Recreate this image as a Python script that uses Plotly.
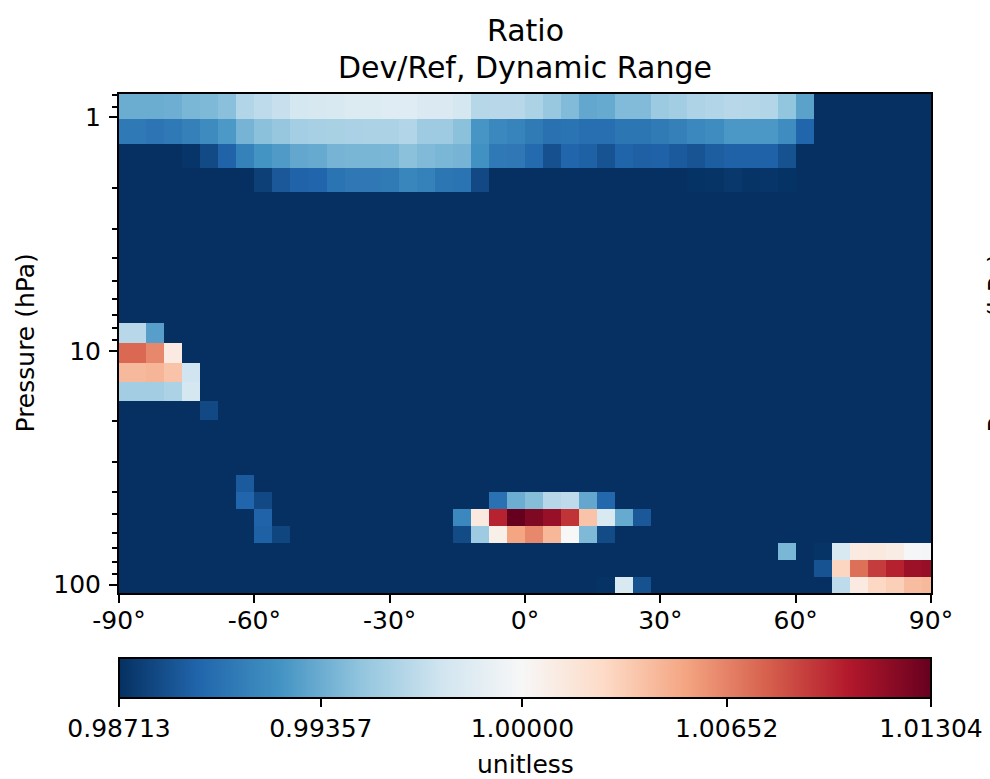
import plotly.graph_objects as go

# Dev/Ref ratio, zonal mean, stratosphere (GEOS-Chem 72L edges 0.795-108.7 hPa)

B = 0.98713  # background cells sit at the colour-scale minimum

lat = [-90, -86, -82, -78, -74, -70, -66, -62, -58, -54,
       -50, -46, -42, -38, -34, -30, -26, -22, -18, -14,
       -10, -6, -2, 2, 6, 10, 14, 18, 22, 26,
       30, 34, 38, 42, 46, 50, 54, 58, 62, 66,
       70, 74, 78, 82, 86, 90]

p_edges = [0.7951, 1.0194, 1.3005, 1.6508, 2.0850, 2.6202, 3.2764, 4.0766,
           5.0468, 6.2168, 7.6198, 9.2929, 11.2769, 13.6434, 16.4571,
           19.7916, 23.7304, 28.3678, 33.8100, 40.1754, 47.6439, 56.3879,
           66.6034, 78.5123, 92.3657, 108.663]

ratio = [
    # 0.80 - 1.02 hPa
    [0.99357, 0.99357, 0.99357, 0.99369, 0.99408, 0.99421, 0.99459, 0.99614, 0.99665, 0.99704,
     0.99768, 0.99781, 0.99794, 0.99820, 0.99820, 0.99846, 0.99846, 0.99807, 0.99807, 0.99768,
     0.99627, 0.99640, 0.99640, 0.99588, 0.99511, 0.99434, 0.99331, 0.99344, 0.99434, 0.99434,
     0.99524, 0.99550, 0.99601, 0.99614, 0.99640, 0.99627, 0.99614, 0.99485, 0.99305, B,
     B, B, B, B, B, B],
    # 1.02 - 1.30
    [0.99078, 0.99078, 0.99050, 0.99078, 0.99120, 0.99187, 0.99256, 0.99395, 0.99465, 0.99501,
     0.99560, 0.99570, 0.99578, 0.99583, 0.99591, 0.99591, 0.99614, 0.99537, 0.99537, 0.99467,
     0.99236, 0.99163, 0.99138, 0.99086, 0.99035, 0.99048, 0.99022, 0.99022, 0.99060, 0.99060,
     0.99086, 0.99120, 0.99163, 0.99189, 0.99254, 0.99254, 0.99254, 0.99189, 0.98970, B,
     B, B, B, B, B, B],
    # 1.30 - 1.65
    [B, B, B, B, 0.98739, 0.98837, 0.98958, 0.99125, 0.99228, 0.99266,
     0.99331, 0.99344, 0.99395, 0.99403, 0.99403, 0.99408, 0.99467, 0.99426, 0.99408, 0.99395,
     0.99215, 0.99078, 0.99073, 0.98996, 0.98867, 0.98970, 0.98945, 0.98880, 0.98965, 0.98940,
     0.98952, 0.98914, 0.98885, 0.98932, 0.98952, 0.98952, 0.98952, 0.98873, B, B,
     B, B, B, B, B, B],
    # 1.65 - 2.09
    [B, B, B, B, B, B, B, B, 0.98790, 0.98906,
     0.98958, 0.98970, 0.99048, 0.99073, 0.99073, 0.99086, 0.99151, 0.99125, 0.99060, 0.99048,
     0.98829, B, B, B, B, B, B, B, B, B,
     B, B, 0.98726, 0.98734, 0.98752, 0.98734, 0.98739, 0.98726, B, B,
     B, B, B, B, B, B],
    # 2.09 - 2.62
    [B, B, B, B, B, B, B, B, B, B,
     B, B, B, B, B, B, B, B, B, B,
     B, B, B, B, B, B, B, B, B, B,
     B, B, B, B, B, B, B, B, B, B,
     B, B, B, B, B, B],
    # 2.62 - 3.28
    [B, B, B, B, B, B, B, B, B, B,
     B, B, B, B, B, B, B, B, B, B,
     B, B, B, B, B, B, B, B, B, B,
     B, B, B, B, B, B, B, B, B, B,
     B, B, B, B, B, B],
    # 3.28 - 4.08
    [B, B, B, B, B, B, B, B, B, B,
     B, B, B, B, B, B, B, B, B, B,
     B, B, B, B, B, B, B, B, B, B,
     B, B, B, B, B, B, B, B, B, B,
     B, B, B, B, B, B],
    # 4.08 - 5.05
    [B, B, B, B, B, B, B, B, B, B,
     B, B, B, B, B, B, B, B, B, B,
     B, B, B, B, B, B, B, B, B, B,
     B, B, B, B, B, B, B, B, B, B,
     B, B, B, B, B, B],
    # 5.05 - 6.22
    [B, B, B, B, B, B, B, B, B, B,
     B, B, B, B, B, B, B, B, B, B,
     B, B, B, B, B, B, B, B, B, B,
     B, B, B, B, B, B, B, B, B, B,
     B, B, B, B, B, B],
    # 6.22 - 7.62
    [B, B, B, B, B, B, B, B, B, B,
     B, B, B, B, B, B, B, B, B, B,
     B, B, B, B, B, B, B, B, B, B,
     B, B, B, B, B, B, B, B, B, B,
     B, B, B, B, B, B],
    # 7.62 - 9.29
    [0.99640, 0.99640, 0.99292, B, B, B, B, B, B, B,
     B, B, B, B, B, B, B, B, B, B,
     B, B, B, B, B, B, B, B, B, B,
     B, B, B, B, B, B, B, B, B, B,
     B, B, B, B, B, B],
    # 9.29 - 11.3
    [1.00751, 1.00751, 1.00631, 1.00120, B, B, B, B, B, B,
     B, B, B, B, B, B, B, B, B, B,
     B, B, B, B, B, B, B, B, B, B,
     B, B, B, B, B, B, B, B, B, B,
     B, B, B, B, B, B],
    # 11.3 - 13.6
    [1.00425, 1.00425, 1.00443, 1.00376, 0.99743, B, B, B, B, B,
     B, B, B, B, B, B, B, B, B, B,
     B, B, B, B, B, B, B, B, B, B,
     B, B, B, B, B, B, B, B, B, B,
     B, B, B, B, B, B],
    # 13.6 - 16.5
    [0.99550, 0.99550, 0.99550, 0.99588, 0.99768, B, B, B, B, B,
     B, B, B, B, B, B, B, B, B, B,
     B, B, B, B, B, B, B, B, B, B,
     B, B, B, B, B, B, B, B, B, B,
     B, B, B, B, B, B],
    # 16.5 - 19.8
    [B, B, B, B, B, 0.98829, B, B, B, B,
     B, B, B, B, B, B, B, B, B, B,
     B, B, B, B, B, B, B, B, B, B,
     B, B, B, B, B, B, B, B, B, B,
     B, B, B, B, B, B],
    # 19.8 - 23.7
    [B, B, B, B, B, B, B, B, B, B,
     B, B, B, B, B, B, B, B, B, B,
     B, B, B, B, B, B, B, B, B, B,
     B, B, B, B, B, B, B, B, B, B,
     B, B, B, B, B, B],
    # 23.7 - 28.4
    [B, B, B, B, B, B, B, B, B, B,
     B, B, B, B, B, B, B, B, B, B,
     B, B, B, B, B, B, B, B, B, B,
     B, B, B, B, B, B, B, B, B, B,
     B, B, B, B, B, B],
    # 28.4 - 33.8
    [B, B, B, B, B, B, B, B, B, B,
     B, B, B, B, B, B, B, B, B, B,
     B, B, B, B, B, B, B, B, B, B,
     B, B, B, B, B, B, B, B, B, B,
     B, B, B, B, B, B],
    # 33.8 - 40.2
    [B, B, B, B, B, B, B, 0.98914, B, B,
     B, B, B, B, B, B, B, B, B, B,
     B, B, B, B, B, B, B, B, B, B,
     B, B, B, B, B, B, B, B, B, B,
     B, B, B, B, B, B],
    # 40.2 - 47.6
    [B, B, B, B, B, B, B, 0.98970, 0.98829, B,
     B, B, B, B, B, B, B, B, B, B,
     B, 0.99035, 0.99364, 0.99447, 0.99627, 0.99665, 0.99331, 0.98983, B, B,
     B, B, B, B, B, B, B, B, B, B,
     B, B, B, B, B, B],
    # 47.6 - 56.4
    [B, B, B, B, B, B, B, B, 0.98958, B,
     B, B, B, B, B, B, B, B, B, 0.99163,
     1.00130, 1.01007, 1.01304, 1.01221, 1.01134, 1.00941, 1.00376, 0.99794, 0.99344, 0.98906,
     B, B, B, B, B, B, B, B, B, B,
     B, B, B, B, B, B],
    # 56.4 - 66.6
    [B, B, B, B, B, B, B, B, 0.98945, 0.98816,
     B, B, B, B, B, B, B, B, B, 0.98842,
     0.99537, 1.00078, 1.00522, 1.00631, 1.00430, 1.00000, 0.99421, 0.98842, B, B,
     B, B, B, B, B, B, B, B, B, B,
     B, B, B, B, B, B],
    # 66.6 - 78.5
    [B, B, B, B, B, B, B, B, B, B,
     B, B, B, B, B, B, B, B, B, B,
     B, B, B, B, B, B, B, B, B, B,
     B, B, B, B, B, B, B, 0.99408, B, 0.98734,
     0.99794, 1.00117, 1.00130, 1.00104, 0.99987, 0.99974],
    # 78.5 - 92.4
    [B, B, B, B, B, B, B, B, B, B,
     B, B, B, B, B, B, B, B, B, B,
     B, B, B, B, B, B, B, B, B, B,
     B, B, B, B, B, B, B, B, B, 0.98880,
     1.00284, 1.00722, 1.00913, 1.01012, 1.01119, 1.01137],
    # 92.4 - 108.7
    [B, B, B, B, B, B, B, B, B, B,
     B, B, B, B, B, B, B, B, B, B,
     B, B, B, B, B, B, B, 0.98726, 0.99794, 0.98873,
     B, B, B, B, B, B, B, B, B, B,
     0.99665, 1.00117, 1.00274, 1.00313, 1.00404, 1.00425],
]

cbar_ticks = [0.98713, 0.99357, 1.00000, 1.00652, 1.01304]
lat_ticks = [-90, -60, -30, 0, 30, 60, 90]
lat_labels = ['-90°', '-60°', '-30°', '0°', '30°', '60°', '90°']

vmin, vcenter, vmax = cbar_ticks[0], cbar_ticks[2], cbar_ticks[-1]

# matplotlib RdBu_r, squeezed to a two-slope norm around 1.0
rdbu_r = ['#053061', '#2166ac', '#4393c3', '#92c5de', '#d1e5f0', '#f7f7f7',
          '#fddbc7', '#f4a582', '#d6604d', '#b2182b', '#67001f']
c = (vcenter - vmin) / (vmax - vmin)
cscale = []
for i, col in enumerate(rdbu_r):
    if i <= 5:
        pos = i / 5 * c
    else:
        pos = c + (i - 5) / 5 * (1 - c)
    cscale.append([pos, col])
cscale[-1][0] = 1.0

FONT = 'DejaVu Sans'
W, H = 990, 779
L, R, T, Bm = 119, 59, 94, 186
ph = H - T - Bm

def py(px):
    # pixel row -> paper y
    return (H - Bm - px) / ph

fig = go.Figure()
fig.add_trace(go.Heatmap(
    x=lat, y=p_edges, z=ratio,
    colorscale=cscale, zmin=vmin, zmax=vmax,
    zsmooth=False,
    colorbar=dict(
        orientation='h', x=0.5, xanchor='center', y=py(658), yanchor='top',
        len=1, lenmode='fraction', thickness=40, xpad=0, ypad=0,
        outlinewidth=2, outlinecolor='black',
        tickvals=cbar_ticks, ticktext=['%.5f' % v for v in cbar_ticks],
        ticks='outside', ticklen=8, tickwidth=2, tickcolor='black',
        tickfont=dict(family=FONT, size=25, color='black'),
    ),
    hoverinfo='skip',
))

fig.update_xaxes(
    range=[-90, 90], tickvals=lat_ticks, ticktext=lat_labels,
    ticks='outside', ticklen=8, tickwidth=2, tickcolor='black',
    showline=True, linewidth=2, linecolor='black', mirror=True,
    showgrid=False, zeroline=False, ticklabelstandoff=-4,
    tickfont=dict(family=FONT, size=25, color='black'),
)
fig.update_yaxes(
    type='log', range=[2.036082, -0.099577],
    tickvals=[1, 10, 100], ticktext=['1', '10', '100'],
    ticks='outside', ticklen=8, tickwidth=2, tickcolor='black',
    minor=dict(tickvals=[0.8, 0.9, 2, 3, 4, 5, 6, 7, 8, 9,
                         20, 30, 40, 50, 60, 70, 80, 90],
               ticks='outside', ticklen=5, tickwidth=1.5, tickcolor='black',
               showgrid=False),
    showline=True, linewidth=2, linecolor='black', mirror=True,
    showgrid=False, zeroline=False, ticklabelstandoff=3,
    tickfont=dict(family=FONT, size=25, color='black'),
)

ann_font = dict(family=FONT, size=25, color='black')
fig.add_annotation(text='Pressure (hPa)', textangle=-90, xref='paper', yref='paper',
                   x=-94 / 812, y=0.5, xanchor='center', yanchor='middle',
                   showarrow=False, font=ann_font)
# neighbouring panel's axis label, cut by the figure edge
fig.add_annotation(text='Pressure (hPa)', textangle=-90, xref='paper', yref='paper',
                   x=(997 - L) / 812, y=0.5, xanchor='center', yanchor='middle',
                   showarrow=False, font=ann_font)
fig.add_annotation(text='unitless', xref='paper', yref='paper', x=0.5, y=py(764),
                   xanchor='center', yanchor='middle', showarrow=False, font=ann_font)

title_font = dict(family=FONT, size=30, color='black')
fig.add_annotation(text='Ratio', xref='paper', yref='paper', x=0.5, y=py(31),
                   xanchor='center', yanchor='middle', showarrow=False, font=title_font)
fig.add_annotation(text='Dev/Ref, Dynamic Range', xref='paper', yref='paper', x=0.5, y=py(68),
                   xanchor='center', yanchor='middle', showarrow=False, font=title_font)

fig.update_layout(
    width=W, height=H,
    margin=dict(l=L, r=R, t=T, b=Bm, autoexpand=False),
    paper_bgcolor='white', plot_bgcolor='white',
    font=dict(family=FONT, color='black'),
    showlegend=False,
)

# page body has an 8px default margin; drop it so the figure sits at 0,0
fig.write_html("out.html", config={'displayModeBar': False},
               post_script="document.body.style.margin='0';")
